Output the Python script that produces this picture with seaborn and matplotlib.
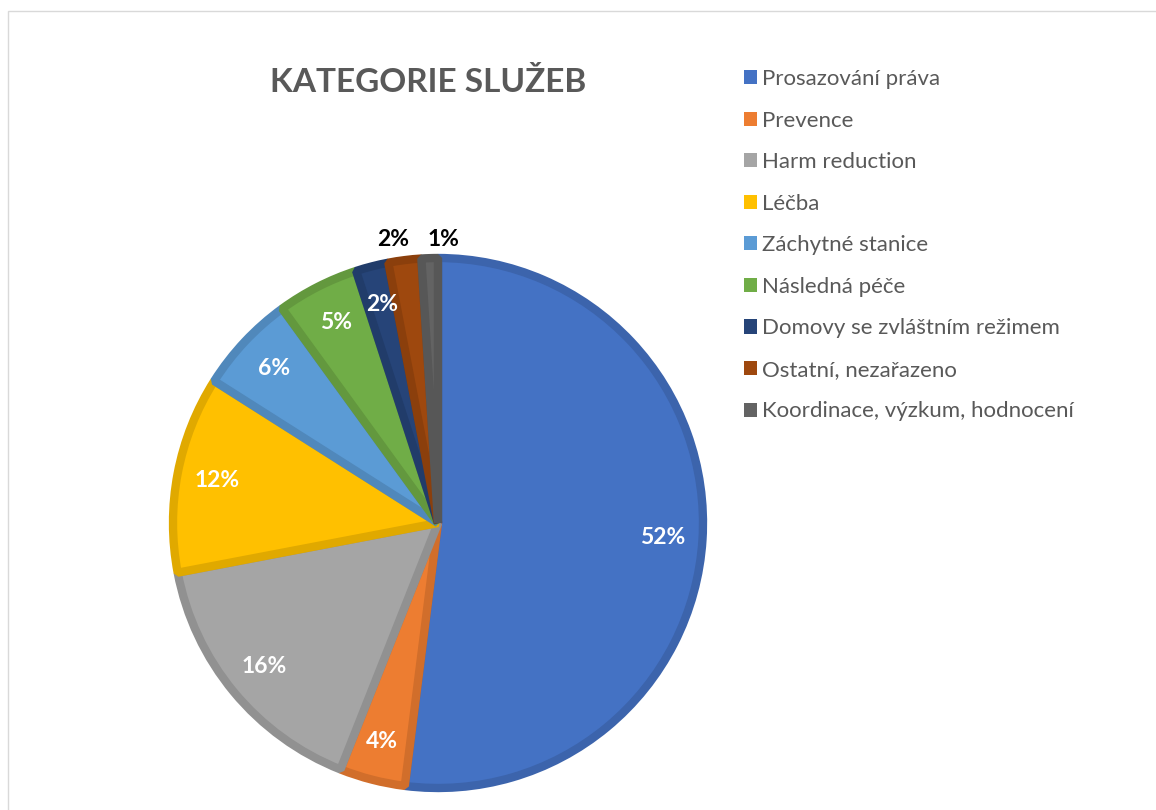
import numpy as np
import matplotlib.pyplot as plt
import matplotlib.colors as mcolors
import seaborn as sns

categories = ['Prosazování práva', 'Prevence', 'Harm reduction', 'Léčba',
              'Záchytné stanice', 'Následná péče', 'Domovy se zvláštním režimem',
              'Ostatní, nezařazeno', 'Koordinace, výzkum, hodnocení']
shares = [52, 4, 16, 12, 6, 5, 2, 2, 1]
outside = [7, 8]   # labels drawn outside the pie

palette = sns.color_palette(['#4472C4', '#ED7D31', '#A5A5A5', '#FFC000', '#5B9BD5',
                             '#70AD47', '#264478', '#9E480E', '#636363'])

sns.set_theme(style="white")
plt.rcParams['font.family'] = ['Lato', 'DejaVu Sans']

fig = plt.figure(figsize=(11.56, 8.10), dpi=100)

# chart area frame
fig.patches.append(plt.Rectangle((8 / 1156, -0.01), 1.2, (810 - 11) / 810 + 0.01,
                                 transform=fig.transFigure, fill=False,
                                 edgecolor='#D9D9D9', linewidth=1))

ax = fig.add_axes([173 / 1156, 22 / 810, 530 / 1156, 530 / 810])

def darker(c, f=0.88):
    r, g, b = mcolors.to_rgb(c)
    return (r * f, g * f, b * f)

wedges, texts, autotexts = ax.pie(
    shares, colors=palette, startangle=90, counterclock=False,
    autopct='%.0f%%', pctdistance=0.85,
    wedgeprops=dict(linewidth=6, joinstyle='bevel'),
    textprops=dict(color='white', fontsize=16.5, fontweight='bold'))

for w, c in zip(wedges, palette):
    w.set_edgecolor(darker(c))

for i in outside:
    t = autotexts[i]
    ang = np.deg2rad((wedges[i].theta1 + wedges[i].theta2) / 2)
    t.set_position((1.05 * np.cos(ang), 1.05 * np.sin(ang)))
    t.set_color('black')
    t.set_va('bottom')
autotexts[8].set_position((0.02, 1.03))
autotexts[7].set_position((-0.17, 1.03))

ax.set_xlim(-1, 1)
ax.set_ylim(-1, 1)
ax.set_aspect('equal')
ax.axis('off')

fig.text(428 / 1156, 1 - 82 / 810, 'KATEGORIE SLUŽEB', ha='center', va='center',
         fontsize=24, fontweight='bold', color='#595959')

leg = fig.legend(wedges, categories, loc='upper left',
                 bbox_to_anchor=(724 / 1156, 1 - 49 / 810), frameon=False,
                 fontsize=16, labelcolor='#595959', handlelength=0.6,
                 handleheight=0.6, handletextpad=0.2, labelspacing=0.97)
for h, c in zip(leg.legend_handles, palette):
    h.set_edgecolor(c)
    h.set_linewidth(0)

fig.savefig('out.png', dpi=100)
